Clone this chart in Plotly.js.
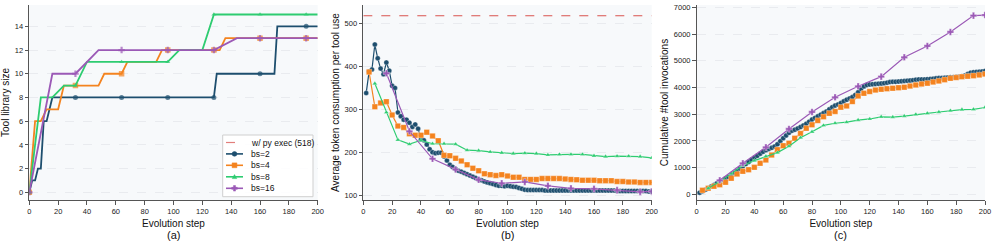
<!DOCTYPE html>
<html>
<head>
<meta charset="utf-8">
<script src="https://cdn.plot.ly/plotly-3.0.1.min.js"></script>
<style>html,body{margin:0;padding:0;background:#fff;}#chart{width:996px;height:246px;}</style>
</head>
<body>
<div id="chart"></div>
<script>
// ---------- DATA ----------
const seriesNames = ['bs=2', 'bs=4', 'bs=8', 'bs=16'];
const baselineName = 'w/ py exec (518)';
const baselineValue = 518;
const panelLabels = ['(a)', '(b)', '(c)'];
const yTitles = ['Tool library size', 'Average token consumption per tool use', 'Cumulative #tool invocations'];
const xTitle = 'Evolution step';

// (a) tool library size: change points
const a_bs2_x = [0,2,4,6,8,10,12,16,32,64,96,128,130,160,170,172,192,200];
const a_bs2_y = [0,1,1,2,2,6,6,8,8,8,8,8,10,10,10,14,14,14];
const a_bs4_x = [0,4,8,12,20,24,32,48,52,64,68,88,92,96,128,132,136,160,192,200];
const a_bs4_y = [0,6,6,7,7,9,9,9,10,10,11,11,12,12,12,12,13,13,13,13];
const a_bs8_x = [0,8,16,24,32,40,64,96,104,120,128,160,192,200];
const a_bs8_y = [0,8,8,9,9,11,11,11,12,12,15,15,15,15];
const a_bs16_x = [0,16,32,48,64,96,128,144,160,192,200];
const a_bs16_y = [0,10,10,12,12,12,12,13,13,13,13];

// (b) average token consumption per tool use
const b_bs2 = [338,388,393,451,419,395,382,409,390,355,
               350,293,284,276,276,269,259,265,255,230,
               228,218,207,200,198,199,199,190,181,171,
               166,161,157,155,152,149,146,143,140,137,
               135,132,130,128,126,124,122,122,121,122,
               121,120,119,117,115,113,112,112,112,112,
               112,112,111,111,111,111,111,111,111,111,
               111,111,111,111,111,111,111,111,111,111,
               111,111,111,111,111,111,111,110,110,110,
               110,110,110,110,110,110,110,110,109,109];
const b_bs4 = [387,306,315,318,287,261,258,243,240,240,
               247,238,227,193,192,186,180,171,163,157,
               150,148,146,148,145,142,142,137,137,137,
               139,139,139,139,138,137,136,135,135,135,
               134,134,134,132,132,131,131,130,130,130];
const b_bs8 = [360,293,229,219,228,220,220,219,205,204,
               201,199,197,198,197,194,195,195,195,192,
               190,191,191,190,187];
const b_bs16 = [384,249,185,160,136,128,131,122,116,115,112,108,109];

// (c) cumulative tool invocations
const c_bs2 = [60,110,170,230,290,350,410,470,530,590,
               650,720,790,870,960,1050,1130,1210,1290,1370,
               1440,1520,1590,1650,1700,1740,1790,1870,1990,2100,
               2200,2300,2380,2420,2460,2520,2580,2640,2720,2800,
               2860,2920,2980,3040,3100,3180,3260,3320,3360,3420,
               3480,3540,3590,3640,3720,3820,3940,4040,4090,4110,
               4120,4130,4140,4150,4160,4180,4200,4210,4210,4220,
               4230,4240,4250,4260,4270,4290,4300,4300,4300,4310,
               4320,4330,4340,4350,4350,4360,4370,4380,4380,4390,
               4400,4420,4450,4500,4550,4570,4580,4590,4600,4620];
const c_bs4 = [150,230,300,360,450,600,760,860,920,1010,
               1160,1285,1470,1670,1820,1910,2100,2280,2470,2600,
               2760,2900,3030,3100,3260,3310,3470,3680,3780,3845,
               3900,3930,3950,3970,3990,4010,4050,4095,4130,4160,
               4200,4240,4290,4340,4370,4400,4420,4440,4470,4500];
const c_bs8 = [225,480,780,1080,1260,1420,1560,1800,2120,2340,
               2580,2660,2700,2780,2820,2900,2890,2930,2990,3030,
               3080,3130,3170,3180,3250];
const c_bs16 = [524,1160,1759,2446,3082,3631,4043,4405,5129,5553,6077,6688,6710];

// ---------- STEP AXES (evolution steps per batch size) ----------
function steps(bs, last) { const s = []; for (let v = bs; v <= last; v += bs) s.push(v); if (s[s.length-1] !== last) s.push(last); return s; }
const stepsBs2 = steps(2, 200), stepsBs4 = steps(4, 200), stepsBs8 = steps(8, 200), stepsBs16 = steps(16, 200);

// ---------- STYLE ----------
const colors = ['#1d4e6e', '#f4831f', '#2ecc71', '#9b59b6'];
const baseColor = '#d9534f';
const symbols = ['circle', 'square', 'triangle-up', 'cross'];
const msizes = [5, 5.5, 4.5, 5.5];
const FONT = 'Liberation Sans, Arial, sans-serif';

const traces = [];
// (a)
const aX = [a_bs2_x, a_bs4_x, a_bs8_x, a_bs16_x];
const aY = [a_bs2_y, a_bs4_y, a_bs8_y, a_bs16_y];
for (let i = 0; i < 4; i++) {
  traces.push({
    x: aX[i], y: aY[i], xaxis: 'x', yaxis: 'y', type: 'scatter', mode: 'lines+markers',
    name: seriesNames[i], showlegend: false, hoverinfo: 'skip',
    line: {color: colors[i], width: 1.8},
    marker: {color: colors[i], symbol: symbols[i],
             size: aX[i].map(v => (v % 32 === 0) ? msizes[i] : 0), line: {width: 0}}
  });
}
// (b) baseline
traces.push({
  x: [0, 200], y: [baselineValue, baselineValue], xaxis: 'x2', yaxis: 'y2', type: 'scatter', mode: 'lines',
  name: baselineName, showlegend: false,
  line: {color: baseColor, width: 1.2, dash: 'dash'}
});
const bX = [stepsBs2, stepsBs4, stepsBs8, stepsBs16];
const bY = [b_bs2, b_bs4, b_bs8, b_bs16];
const cY = [c_bs2, c_bs4, c_bs8, c_bs16];
for (let p = 0; p < 2; p++) {
  for (let i = 0; i < 4; i++) {
    traces.push({
      x: bX[i], y: p === 0 ? bY[i] : cY[i], xaxis: p === 0 ? 'x2' : 'x3', yaxis: p === 0 ? 'y2' : 'y3',
      type: 'scatter', mode: 'lines+markers', name: seriesNames[i], showlegend: false,
      line: {color: colors[i], width: 1.2},
      marker: {color: colors[i], symbol: symbols[i], size: msizes[i], line: {color: 'rgba(255,255,255,0.6)', width: 0.5}}
    });
  }
}

const W = 996, H = 246;
const px = v => v / W, py = v => (H - v) / H;
const yDom = [py(200), py(5)];
const xDoms = [[px(29.3), px(317.7)], [px(363.3), px(651.7)], [px(696.7), px(985)]];
const yRanges = [[-0.65, 15.8], [89, 543], [-213, 7086]];
const yDticks = [2, 100, 1000];

function xAxis(i) {
  return {
    domain: xDoms[i], anchor: i === 0 ? 'y' : 'y' + (i + 1), range: [0, 200],
    tickmode: 'linear', tick0: 0, dtick: 20, showgrid: false, zeroline: false,
    showline: true, linecolor: '#555', linewidth: 1.2, ticks: 'outside', ticklen: 3.5, tickcolor: '#555',
    tickfont: {family: FONT, size: 7.5, color: '#222'},
    title: {text: xTitle, font: {family: FONT, size: 10, color: '#111'}, standoff: 5}
  };
}
function yAxis(i) {
  return {
    domain: yDom, anchor: i === 0 ? 'x' : 'x' + (i + 1), range: yRanges[i],
    tickmode: 'linear', tick0: 0, dtick: yDticks[i], showgrid: true, gridcolor: '#e3e6ea', gridwidth: 0.7, griddash: 'dash',
    zeroline: false, showline: true, linecolor: '#555', linewidth: 1.2, ticks: 'outside', ticklen: 3.5, tickcolor: '#555',
    tickfont: {family: FONT, size: 7.5, color: '#222'},
    title: {text: yTitles[i], font: {family: FONT, size: 10, color: '#111'}, standoff: 3}
  };
}

const annotations = panelLabels.map((t, i) => ({
  text: t, xref: 'paper', yref: 'paper', x: (xDoms[i][0] + xDoms[i][1]) / 2, y: py(235),
  xanchor: 'center', yanchor: 'middle', showarrow: false, font: {family: FONT, size: 11, color: '#111'}
}));

// ---------- compact legend drawn in panel (a) ----------
const shapes = [];
const legBox = {x0: 222.7, x1: 313, y0: 135, y1: 196.7};
shapes.push({type: 'rect', xref: 'paper', yref: 'paper', x0: px(legBox.x0), x1: px(legBox.x1), y0: py(legBox.y1), y1: py(legBox.y0),
             fillcolor: 'rgba(255,255,255,0.9)', line: {color: '#cfcfcf', width: 1}, layer: 'above'});
const legNames = [baselineName].concat(seriesNames);
const legColors = [baseColor].concat(colors);
const rowY = [142.5, 153.9, 165.3, 176.8, 188.3];
const lx0 = 226, lx1 = 243, mx = 234.5, tx = 248.5;
legNames.forEach((n, k) => {
  const y = rowY[k];
  shapes.push({type: 'line', xref: 'paper', yref: 'paper', x0: px(lx0), x1: px(lx1), y0: py(y), y1: py(y),
               line: {color: legColors[k], width: k === 0 ? 1.2 : 1.6, dash: k === 0 ? 'dash' : 'solid'}, opacity: k === 0 ? 0.75 : 1, layer: 'above'});
  if (k > 0) {
    const r = 2.4, c = legColors[k];
    const i = k - 1;
    let sh;
    if (i === 0) sh = {type: 'circle', x0: px(mx - r), x1: px(mx + r), y0: py(y + r), y1: py(y - r)};
    else if (i === 1) sh = {type: 'rect', x0: px(mx - r), x1: px(mx + r), y0: py(y + r), y1: py(y - r)};
    else if (i === 2) sh = {type: 'path', path: `M ${px(mx - 2.3)} ${py(y + 1.8)} L ${px(mx + 2.3)} ${py(y + 1.8)} L ${px(mx)} ${py(y - 2.2)} Z`};
    else {
      const a = 2.8, b = 1.0;
      const pts = [[-b,-a],[b,-a],[b,-b],[a,-b],[a,b],[b,b],[b,a],[-b,a],[-b,b],[-a,b],[-a,-b],[-b,-b]];
      sh = {type: 'path', path: 'M ' + pts.map(p => `${px(mx + p[0])} ${py(y + p[1])}`).join(' L ') + ' Z'};
    }
    Object.assign(sh, {xref: 'paper', yref: 'paper', fillcolor: c, line: {color: c, width: 0.5}, layer: 'above'});
    shapes.push(sh);
  }
  annotations.push({text: n, xref: 'paper', yref: 'paper', x: px(tx), y: py(y), xanchor: 'left', yanchor: 'middle',
                    showarrow: false, font: {family: FONT, size: 8.5, color: '#111'}});
});

const layout = {
  width: W, height: H, margin: {l: 0, r: 0, t: 0, b: 0},
  paper_bgcolor: '#ffffff', plot_bgcolor: '#f7f9fb',
  font: {family: FONT},
  xaxis: xAxis(0), yaxis: yAxis(0), xaxis2: xAxis(1), yaxis2: yAxis(1), xaxis3: xAxis(2), yaxis3: yAxis(2),
  showlegend: false,
  annotations: annotations,
  shapes: shapes
};

Plotly.newPlot('chart', traces, layout, {displayModeBar: false, staticPlot: true});
</script>
</body>
</html>
